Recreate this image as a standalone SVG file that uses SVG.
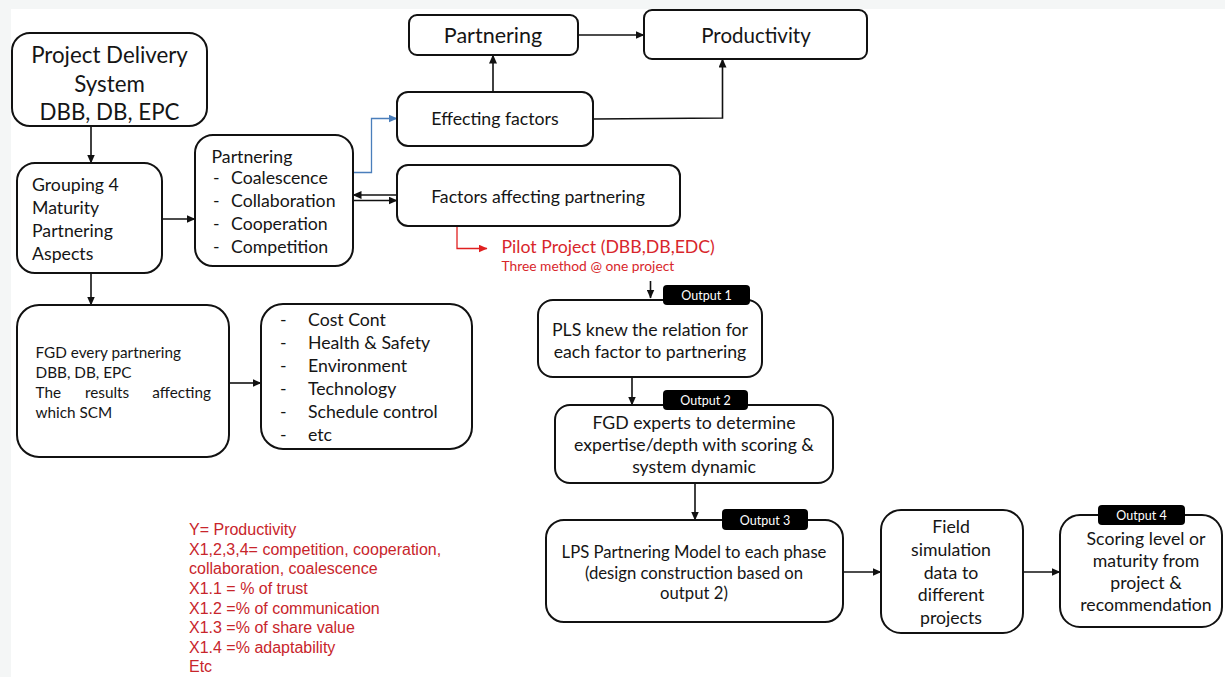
<svg xmlns="http://www.w3.org/2000/svg" width="1225" height="677" viewBox="0 0 1225 677">
<defs>
<marker id="ah" markerUnits="userSpaceOnUse" markerWidth="9" markerHeight="8" refX="8.5" refY="4" orient="auto"><path d="M0,0 L9,4 L0,8 z" fill="#111"/></marker>
<marker id="ahb" markerUnits="userSpaceOnUse" markerWidth="9" markerHeight="8" refX="8.5" refY="4" orient="auto"><path d="M0,0 L9,4 L0,8 z" fill="#4a7ebb"/></marker>
<marker id="ahr" markerUnits="userSpaceOnUse" markerWidth="9" markerHeight="8" refX="8.5" refY="4" orient="auto"><path d="M0,0 L9,4 L0,8 z" fill="#e02020"/></marker>
<style>
.box{fill:#fff;stroke:#111;stroke-width:2}
.t{font-family:Lato,"Open Sans",sans-serif;fill:#151515}
.c{text-anchor:middle}
.n{font-size:17.7px}
.big{font-size:22.3px}
.lbl{fill:#000}
.lt{font-family:Lato,sans-serif;font-size:12.5px;fill:#fff;text-anchor:middle}
.ln{fill:none;stroke:#111;stroke-width:1.6}
.red{font-family:Lato,sans-serif;fill:#d8262b}
.eq{font-family:"Liberation Sans",Arial,sans-serif;font-size:16px;fill:#c8252b}
</style>
</defs>
<rect width="1225" height="677" fill="#f4f6f6"/>
<rect x="11" y="9" width="1214" height="668" fill="#fff"/>

<g id="connectors">
<line class="ln" x1="91" y1="126" x2="91" y2="163" marker-end="url(#ah)"/>
<line class="ln" x1="162" y1="219" x2="195" y2="219" marker-end="url(#ah)"/>
<line class="ln" x1="91" y1="273" x2="91" y2="305" marker-end="url(#ah)"/>
<line class="ln" x1="229" y1="383" x2="261" y2="383" marker-end="url(#ah)"/>
<polyline points="353,172.5 371.5,172.5 371.5,118.5 397,118.5" fill="none" stroke="#4a7ebb" stroke-width="1.3" marker-end="url(#ahb)"/>
<line class="ln" x1="397" y1="195" x2="353" y2="195" marker-end="url(#ah)"/>
<line class="ln" x1="353" y1="200.5" x2="397" y2="200.5" marker-end="url(#ah)"/>
<line class="ln" x1="493" y1="92" x2="493" y2="55" marker-end="url(#ah)"/>
<line class="ln" x1="578" y1="35" x2="644" y2="35" marker-end="url(#ah)"/>
<polyline class="ln" points="593,119 722.5,118 722.5,59" marker-end="url(#ah)"/>
<polyline points="457,226 457,248.5 487,248.5" fill="none" stroke="#e02020" stroke-width="1.3" marker-end="url(#ahr)"/>
<line class="ln" x1="650.5" y1="281" x2="650.5" y2="298" marker-end="url(#ah)"/>
<line class="ln" x1="632" y1="377" x2="632" y2="405" marker-end="url(#ah)"/>
<line class="ln" x1="695" y1="483" x2="695" y2="520" marker-end="url(#ah)"/>
<line class="ln" x1="843" y1="572" x2="881" y2="572" marker-end="url(#ah)"/>
<line class="ln" x1="1023" y1="572" x2="1060" y2="572" marker-end="url(#ah)"/>
</g>

<g id="node-pds">
<rect class="box" x="12" y="33" width="195" height="93" rx="18"/>
<text class="t c big" x="109.5" y="63">Project Delivery</text>
<text class="t c big" x="109.5" y="91.5">System</text>
<text class="t c big" x="109.5" y="120">DBB, DB, EPC</text>
</g>

<g id="node-grouping">
<rect class="box" x="17" y="163" width="145" height="110" rx="18"/>
<text class="t n" x="32" y="191">Grouping 4</text>
<text class="t n" x="32" y="214">Maturity</text>
<text class="t n" x="32" y="237">Partnering</text>
<text class="t n" x="32" y="260">Aspects</text>
</g>

<g id="node-partnering-list">
<rect class="box" x="195" y="135" width="158" height="131" rx="18"/>
<text class="t n" x="211.5" y="162.5">Partnering</text>
<text class="t n" x="213" y="184">-</text><text class="t n" x="231" y="184">Coalescence</text>
<text class="t n" x="213" y="207">-</text><text class="t n" x="231" y="207">Collaboration</text>
<text class="t n" x="213" y="230">-</text><text class="t n" x="231" y="230">Cooperation</text>
<text class="t n" x="213" y="253">-</text><text class="t n" x="231" y="253">Competition</text>
</g>

<g id="node-partnering">
<rect class="box" x="409" y="15" width="169" height="40" rx="8"/>
<text class="t c" x="493" y="43" font-size="21.5">Partnering</text>
</g>

<g id="node-productivity">
<rect class="box" x="644" y="10" width="223" height="49" rx="8"/>
<text class="t c" x="756" y="42.5" font-size="20.5">Productivity</text>
</g>

<g id="node-effecting">
<rect class="box" x="397" y="92" width="196" height="54" rx="11"/>
<text class="t c n" x="495" y="125">Effecting factors</text>
</g>

<g id="node-factors">
<rect class="box" x="397" y="165" width="283" height="61" rx="11"/>
<text class="t c n" x="538" y="203">Factors affecting partnering</text>
</g>

<g id="node-pilot">
<text class="red" x="501.5" y="253" font-size="17.7">Pilot Project (DBB,DB,EDC)</text>
<text class="red" x="501.5" y="271" font-size="13.8">Three method @ one project</text>
</g>

<g id="node-pls">
<rect class="box" x="538" y="300" width="224" height="77" rx="15"/>
<rect class="lbl" x="663" y="285" width="87" height="20" rx="4"/>
<text class="lt" x="706.5" y="299.5">Output  1</text>
<text class="t c n" x="650" y="336">PLS knew the relation for</text>
<text class="t c n" x="650" y="358">each factor to partnering</text>
</g>

<g id="node-fgd-experts">
<rect class="box" x="555" y="405" width="278" height="78" rx="15"/>
<rect class="lbl" x="663" y="390" width="85" height="20" rx="4"/>
<text class="lt" x="705.5" y="404.5">Output  2</text>
<text class="t c n" x="694" y="429">FGD experts to determine</text>
<text class="t c n" x="694" y="451">expertise/depth with scoring &amp;</text>
<text class="t c n" x="694" y="473">system dynamic</text>
</g>

<g id="node-lps">
<rect class="box" x="546" y="520" width="297" height="102" rx="18"/>
<rect class="lbl" x="722" y="509" width="86" height="21" rx="4"/>
<text class="lt" x="765" y="524.5">Output  3</text>
<text class="t c" x="694" y="558" font-size="16.7">LPS Partnering Model to each phase</text>
<text class="t c" x="694" y="578.5" font-size="16.7">(design construction based on</text>
<text class="t c" x="694" y="599" font-size="16.7">output 2)</text>
</g>

<g id="node-field">
<rect class="box" x="881" y="510" width="142" height="123" rx="20"/>
<text class="t c n" x="951" y="533">Field</text>
<text class="t c n" x="951" y="556">simulation</text>
<text class="t c n" x="951" y="579">data to</text>
<text class="t c n" x="951" y="601">different</text>
<text class="t c n" x="951" y="624">projects</text>
</g>

<g id="node-scoring">
<rect class="box" x="1060" y="515" width="162" height="112" rx="20"/>
<rect class="lbl" x="1098" y="505" width="87" height="20" rx="4"/>
<text class="lt" x="1141.5" y="519.5">Output  4</text>
<text class="t c n" x="1146" y="545">Scoring level or</text>
<text class="t c n" x="1146" y="567">maturity from</text>
<text class="t c n" x="1146" y="589">project &amp;</text>
<text class="t c n" x="1146" y="611">recommendation</text>
</g>

<g id="node-fgd-every">
<rect class="box" x="17" y="305" width="212" height="152" rx="22"/>
<text class="t" x="35.5" y="358" font-size="15.3">FGD every partnering</text>
<text class="t" x="35.5" y="378" font-size="15.3">DBB, DB, EPC</text>
<text class="t" x="35.5" y="398" font-size="15.3">The</text>
<text class="t" x="85" y="398" font-size="15.3">results</text>
<text class="t" x="211" y="398" font-size="15.3" text-anchor="end">affecting</text>
<text class="t" x="35.5" y="418" font-size="15.3">which SCM</text>
</g>

<g id="node-factors-list">
<rect class="box" x="261" y="304" width="211" height="145" rx="22"/>
<text class="t n" x="280" y="326">-</text><text class="t n" x="308" y="326">Cost Cont</text>
<text class="t n" x="280" y="349">-</text><text class="t n" x="308" y="349">Health &amp; Safety</text>
<text class="t n" x="280" y="372">-</text><text class="t n" x="308" y="372">Environment</text>
<text class="t n" x="280" y="395">-</text><text class="t n" x="308" y="395">Technology</text>
<text class="t n" x="280" y="418">-</text><text class="t n" x="308" y="418">Schedule control</text>
<text class="t n" x="280" y="441">-</text><text class="t n" x="308" y="441">etc</text>
</g>

<g id="node-equations">
<text class="eq" x="189" y="535">Y= Productivity</text>
<text class="eq" x="189" y="555">X1,2,3,4= competition, cooperation,</text>
<text class="eq" x="189" y="574">collaboration, coalescence</text>
<text class="eq" x="189" y="594">X1.1 = % of trust</text>
<text class="eq" x="189" y="614">X1.2 =% of communication</text>
<text class="eq" x="189" y="633">X1.3 =% of share value</text>
<text class="eq" x="189" y="653">X1.4 =% adaptability</text>
<text class="eq" x="189" y="672">Etc</text>
</g>
</svg>
